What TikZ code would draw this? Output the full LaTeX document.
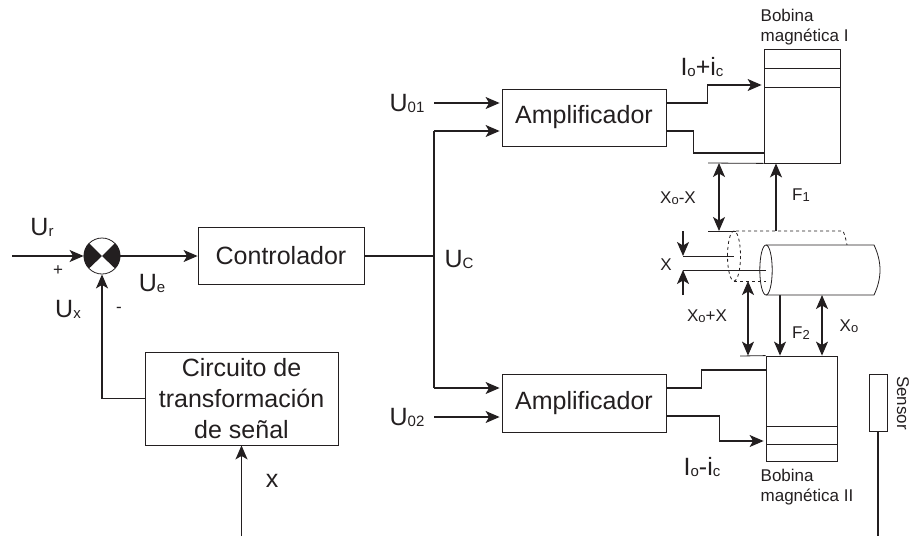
\documentclass[tikz,border=0pt]{standalone}
\usepackage{fontspec}
\setmainfont{Liberation Sans}
\usetikzlibrary{arrows.meta}

\definecolor{ink}{HTML}{231F20}
\newcommand{\sbs}[1]{\raisebox{-1pt}{\fontsize{15}{15}\selectfont #1}}
\newcommand{\sbt}[1]{\raisebox{-1pt}{\fontsize{13}{13}\selectfont #1}}

\begin{document}
\begin{tikzpicture}[x=1pt,y=-1pt,>={Stealth[length=14pt,width=12pt,inset=3.5pt]},
                    line width=1.3pt,draw=ink,text=ink,
                    node distance=179pt]

  \tikzstyle{block}=[rectangle,draw,line width=0.8pt,align=center,inner sep=0pt,
                     font=\fontsize{25}{31}\selectfont]
  \tikzstyle{big}=[inner sep=0pt,font=\fontsize{25}{30}\selectfont]
  \tikzstyle{small}=[inner sep=0pt,font=\fontsize{17}{20.5}\selectfont]
  \tikzstyle{coil}=[block,line width=0.8pt]
  \tikzstyle{thin}=[line width=0.8pt]

  \useasboundingbox (0,0) rectangle (912,536);

  \node[circle,draw,inner sep=0pt,minimum size=36pt,line width=0.8pt] (sum) at (102,256) {};
  \node[block,minimum width=166pt,minimum height=57pt] (ctrl) [right of=sum] {Controlador};
  \node[block,minimum width=164pt,minimum height=57pt] (ampI) at (584,117.5) {Amplificador};
  \node[block,minimum width=164pt,minimum height=58pt] (ampII) at (584,403) {Amplificador};
  \node[block,minimum width=193pt,minimum height=93pt] (circ) at (241.5,398.5)
       {Circuito de\\transformación\\de señal};
  \node[coil,minimum width=76pt,minimum height=114pt] (coilI) at (802,106) {};
  \node[coil,minimum width=71pt,minimum height=105pt] (coilII) at (801.5,408.5) {};
  \node[coil,minimum width=18pt,minimum height=57pt] (sensor) at (878,402.5) {};

  \coordinate (inR) at (12,256);
  \coordinate (inI) at (434,103);
  \coordinate (inIb) at (434,131);
  \coordinate (inII) at (434,388);
  \coordinate (inIIb) at (434,417);
  \coordinate (inX) at (241.5,536);
  \coordinate (outS) at (878,536);
  \coordinate (plateI) at (708,163);
  \coordinate (plateII) at (740,356);
  \coordinate (gapT) at (708,231);
  \coordinate (gapB) at (748,281);
  \coordinate (cylB) at (780,295);
  \coordinate (cylC) at (822,295);
  \coordinate (forceI) at (776,231);
  \coordinate (refA) at (683,256);
  \coordinate (refB) at (683,270);

  \fill[ink] (sum.center) -- (sum.135) arc (135:225:18pt) -- cycle;
  \fill[ink] (sum.center) -- (sum.45) arc (45:-45:18pt) -- cycle;

  \draw[->] (inR) -- (sum);
  \draw[->] (sum) -- (ctrl);
  \draw[->] (circ.west) -| (sum);
  \draw[->] (inX) -- (circ);
  \draw (ctrl.east) -- (inI |- ctrl.east);
  \draw (inIb) -- (inII);
  \draw[->] (inI) -- ([yshift=14.5pt,xshift=-2pt]ampI.west);
  \draw[->] (inIb) -- ([yshift=-13.5pt,xshift=-2pt]ampI.west);
  \draw[->] (inII) -- ([yshift=15pt,xshift=-2pt]ampII.west);
  \draw[->] (inIIb) -- ([yshift=-14pt,xshift=-2pt]ampII.west);

  \draw[->] ([yshift=14.5pt]ampI.east) -- ++(41,0) |- ([yshift=21pt,xshift=-2pt]coilI.west);
  \draw ([yshift=-13.5pt]ampI.east) -- ++(27,0) |- ([yshift=-47pt]coilI.west);
  \draw ([yshift=15pt]ampII.east) -- ++(35,0) |- ([yshift=38.5pt]coilII.west);
  \draw[->] ([yshift=-13pt]ampII.east) -- ++(53,0) |- ([yshift=-32.5pt,xshift=-2pt]coilII.west);
  \draw (sensor.south) -- (outS);

  \draw[thin] (plateI) -- (coilI.south west);
  \draw[thin] (plateII) -- (coilII.north west);
  \draw[thin] (764,68) -- (840,68);
  \draw[thin] (764,87) -- (840,87);
  \draw[thin] (766,426) -- (837,426);
  \draw[thin] (766,444) -- (837,444);

  \draw[<->] ([xshift=11pt]plateI) -- ([xshift=11pt]gapT);
  \draw[->] (forceI) -- (forceI |- coilI.south);
  \draw[<->] (gapB) -- (gapB |- coilII.north);
  \draw[->] (cylB) -- (cylB |- coilII.north);
  \draw[<->] (cylC) -- (cylC |- coilII.north);

  \draw[thin] (gapT) -- (736,231);
  \draw[thin,dashed] (736,231) -- (843,231) .. controls (845,235) and (846,240) .. (847,245);
  \draw[thin,dashed] (734,256) ellipse (6.5 and 25);
  \draw[thin,dashed] (734,281) -- (766,281);
  \draw[thin,fill=white] (766,245) -- (874,245) .. controls (882,262) and (882,278) .. (874,295) -- (766,295);
  \draw[thin] (766,270) ellipse (6.2 and 25);

  \draw[thin] (refA) -- (734,256);
  \draw[thin] (refB) -- (766,270);
  \draw[->] (683,231) -- (refA);
  \draw[->] (683,295) -- (refB);

  \node[big] (lUr) at (42,227) {U\sbs{r}};
  \node[big] (lUe) at (152,283) {U\sbs{e}};
  \node[big] (lUx) at (68,309) {U\sbs{x}};
  \node[big] (lUc) at (459,259) {U\sbs{C}};
  \node[big] (lU1) at (407,103) {U\sbs{01}};
  \node[big] (lU2) at (407,417) {U\sbs{02}};
  \node[big] (lx) at (272,481) {x};
  \node[big] (lIp) at (702,67) {I\sbs{o}+i\sbs{c}};
  \node[big] (lIm) at (702,467) {I\sbs{o}-i\sbs{c}};
  \node[small] (lplus) at (58,271) {+};
  \node[small] (lminus) at (119,310) {-};
  \node[small,align=left,anchor=west] (lcI) at (760,27) {Bobina\\magnética I};
  \node[small,align=left,anchor=west] (lcII) at (760,487) {Bobina\\magnética II};
  \node[small] (lF1) at (801,195) {F\sbt{1}};
  \node[small] (lF2) at (801,333) {F\sbt{2}};
  \node[small] (lXm) at (678,198) {X\sbt{o}-X};
  \node[small] (lXp) at (707,316) {X\sbt{o}+X};
  \node[small] (lXo) at (849,326) {X\sbt{o}};
  \node[small] (lX) at (666,265) {X};
  \node[small,rotate=-90] (lS) at (903,403) {Sensor};
\end{tikzpicture}
\end{document}
